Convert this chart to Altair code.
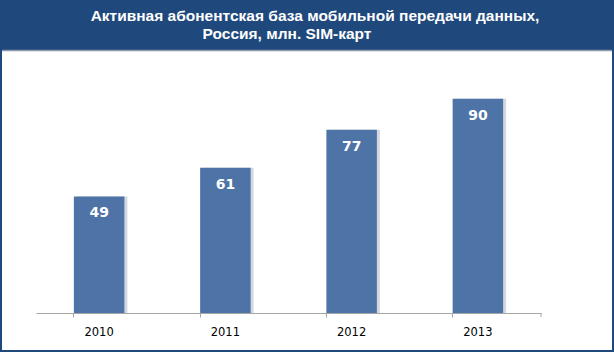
import altair as alt
import pandas as pd

years = ["2010", "2011", "2012", "2013"]
values = [49, 61, 77, 90]
title_line1 = "Активная абонентская база мобильной передачи данных,"
title_line2 = "Россия, млн. SIM-карт"

df = pd.DataFrame({"year": years, "value": values})

NAVY = "#1F497D"
BAR = "#4E73A6"

base = alt.Chart(df)
xenc = alt.X("year:N", sort=years, title=None,
             scale=alt.Scale(paddingInner=0.6, paddingOuter=0.3),
             axis=alt.Axis(labelAngle=0, bandPosition=0, domainColor="#A6A6A6",
                           tickColor="#A6A6A6", tickSize=4, labelPadding=9,
                           labelFont="DejaVu Sans", labelFontSize=11.5, labelColor="#000000",
                           labelAlign="center", labelOffset=0, grid=False, zindex=2))
yscale = alt.Scale(domain=[0, 100])

one = pd.DataFrame({"t1": [title_line1], "t2": [title_line2]})

panel = alt.Chart(one).mark_rect(color="white").encode(
    x=alt.value(-34), x2=alt.value(576), y=alt.value(-25), y2=alt.value(275))

panel_top = alt.Chart(one).mark_rule(color="#8C99AD", strokeWidth=1.5).encode(
    x=alt.value(-34), x2=alt.value(576), y=alt.value(-24.5))

tstyle = dict(font="Liberation Sans", fontWeight="bold", fontSize=15.5, color="white",
              align="center", baseline="middle")
title1 = alt.Chart(one).mark_text(**tstyle).encode(
    text="t1:N", x=alt.value(279), y=alt.value(-59))
title2 = alt.Chart(one).mark_text(**tstyle).encode(
    text="t2:N", x=alt.value(251), y=alt.value(-41))

shadow = base.mark_bar(color="#D3D7DE", xOffset=3).encode(
    x=xenc, y=alt.Y("value:Q", scale=yscale, axis=None))

bars = base.mark_bar(color=BAR).encode(
    x=xenc, y=alt.Y("value:Q", scale=yscale, axis=None))

labels = base.mark_text(color="white", font="DejaVu Sans", fontWeight="bold", fontSize=14,
                        baseline="middle", dy=17).encode(
    x=xenc, y=alt.Y("value:Q", scale=yscale, axis=None), text="value:Q")

endtick = alt.Chart(one).mark_rule(color="#A6A6A6").encode(
    x=alt.value(505), y=alt.value(238), y2=alt.value(242))

chart = alt.layer(panel, panel_top, title1, title2, shadow, bars, labels, endtick).properties(
    width=505, height=238,
    autosize=alt.AutoSizeParams(type="none"),
    padding={"left": 36, "top": 75, "right": 73, "bottom": 39},
    background=NAVY,
).configure_view(stroke=None)

chart.save("out.html", embed_options={"renderer": "svg", "actions": False})
